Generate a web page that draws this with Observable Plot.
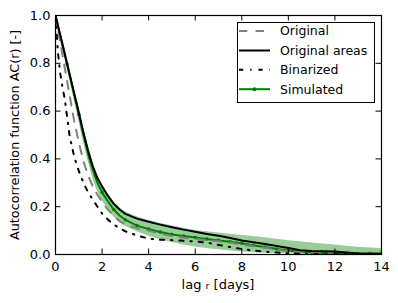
<!DOCTYPE html>
<html>
<head>
<meta charset="utf-8">
<script src="https://cdn.jsdelivr.net/npm/d3@7"></script>
<script src="https://cdn.jsdelivr.net/npm/@observablehq/plot@0.6"></script>
<style>
  html, body { margin: 0; padding: 0; background: white; }
  #wrap { position: relative; width: 398px; height: 303px; font-family: "DejaVu Sans", sans-serif; }
  #legend { position: absolute; left: 236.5px; top: 22px; width: 138px; height: 81px; box-sizing: border-box; border: 1px solid black; background: white; }
</style>
</head>
<body>
<div id="wrap"></div>
<script>
const lag = [0,0.1,0.2,0.3,0.4,0.5,0.6,0.8,1.0,1.2,1.4,1.6,1.8,2.0,2.25,2.5,2.75,3,3.5,4,4.5,5,5.5,6,6.5,7,7.5,8,8.5,9,9.5,10,10.5,11,11.5,12,12.5,13,13.5,14];
const originalAreas = [1.0,0.96,0.92,0.88,0.84,0.795,0.755,0.675,0.595,0.51,0.435,0.37,0.32,0.285,0.245,0.212,0.188,0.17,0.15,0.137,0.125,0.114,0.104,0.095,0.086,0.078,0.069,0.059,0.051,0.044,0.036,0.027,0.018,0.015,0.014,0.013,0.008,0.004,0.003,0.002];
const original = [1.0,0.945,0.89,0.835,0.78,0.725,0.67,0.56,0.47,0.39,0.33,0.285,0.25,0.22,0.188,0.162,0.14,0.125,0.11,0.1,0.087,0.077,0.07,0.065,0.06,0.055,0.05,0.041,0.035,0.028,0.02,0.013,0.01,0.008,0.007,0.005,0.004,0.003,0.003,0.003];
const binarized = [1.0,0.85,0.76,0.70,0.65,0.575,0.5,0.41,0.35,0.30,0.26,0.23,0.2,0.172,0.146,0.126,0.11,0.097,0.08,0.066,0.062,0.06,0.057,0.055,0.05,0.04,0.031,0.023,0.017,0.012,0.008,0.005,0.003,0.002,0.001,0.001,0.001,0.0,0.0,0.0];
const simulated = [1.0,0.957,0.917,0.877,0.837,0.797,0.757,0.672,0.587,0.5,0.42,0.355,0.3,0.26,0.222,0.188,0.163,0.145,0.121,0.106,0.094,0.084,0.077,0.071,0.065,0.059,0.053,0.047,0.038,0.031,0.023,0.017,0.012,0.009,0.007,0.006,0.005,0.004,0.004,0.005];
const simHigh = [1.0,0.962,0.924,0.886,0.848,0.808,0.77,0.69,0.61,0.525,0.445,0.38,0.33,0.295,0.255,0.222,0.197,0.178,0.158,0.142,0.13,0.12,0.11,0.1,0.095,0.09,0.085,0.08,0.075,0.07,0.064,0.058,0.053,0.048,0.044,0.04,0.035,0.03,0.027,0.025];
const simLow = [1.0,0.95,0.905,0.86,0.82,0.78,0.735,0.645,0.56,0.47,0.39,0.32,0.265,0.225,0.19,0.158,0.135,0.118,0.095,0.076,0.062,0.05,0.04,0.031,0.025,0.02,0.015,0.01,0.007,0.005,0.004,0.003,0.001,0,0,0,0,0,0,0];
const xTicks = [0,2,4,6,8,10,12,14];
const yTicks = [0,0.2,0.4,0.6,0.8,1.0];
const seriesNames = ["Original","Original areas","Binarized","Simulated"];

const rows = lag.map((x,i) => ({lag:x, orig:original[i], areas:originalAreas[i], bin:binarized[i], sim:simulated[i], lo:simLow[i], hi:simHigh[i]}));
const simDots = rows.filter(d => Math.abs(d.lag*2 - Math.round(d.lag*2)) < 1e-9);

const DASH = "8.3,8.3";
const DASHDOT = "4.2,6.9,1.4,6.9";

const plot = Plot.plot({
  width: 398, height: 303,
  marginLeft: 55, marginRight: 17, marginTop: 15, marginBottom: 49,
  x: {domain: [0,14]},
  y: {domain: [0,1]},
  style: {fontFamily: "DejaVu Sans", fontSize: "13px", color: "black", background: "white"},
  marks: [
    Plot.areaY(rows, {x:"lag", y1:"lo", y2:"hi", fill:"#008000", fillOpacity:0.4, curve:"linear", clip:true}),
    Plot.line(rows, {x:"lag", y:"sim", stroke:"#008000", strokeWidth:2, clip:true}),
    Plot.dot(simDots, {x:"lag", y:"sim", r:1.8, fill:"#008000", stroke:"none", clip:true}),
    Plot.line(rows, {x:"lag", y:"orig", stroke:"#808080", strokeWidth:2, strokeDasharray:DASH, clip:true}),
    Plot.line(rows, {x:"lag", y:"areas", stroke:"black", strokeWidth:2, clip:true}),
    Plot.line(rows, {x:"lag", y:"bin", stroke:"black", strokeWidth:2, strokeDasharray:DASHDOT, clip:true}),
    Plot.tickX(xTicks, {x:d=>d, insetTop:233.5, stroke:"black"}),
    Plot.tickX(xTicks, {x:d=>d, insetBottom:233.5, stroke:"black"}),
    Plot.tickY(yTicks, {y:d=>d, insetRight:320.5, stroke:"black"}),
    Plot.tickY(yTicks, {y:d=>d, insetLeft:320.5, stroke:"black"}),
    Plot.frame({stroke:"black", strokeWidth:1.2}),
    Plot.axisX({ticks: xTicks, tickSize:0, tickPadding:7, label:null, tickFormat: d=>String(d)}),
    Plot.axisY({ticks: yTicks, tickSize:0, tickPadding:5, label:null, tickFormat: d3.format(".1f")})
  ]
});

const wrap = document.getElementById("wrap");
wrap.appendChild(plot);

const svg = d3.select(plot);
// axis labels
const xl = svg.append("text").attr("x", 218).attr("y", 289).attr("text-anchor","middle")
  .attr("font-family","DejaVu Sans").attr("font-size","13px").attr("fill","black");
xl.append("tspan").text("lag ");
xl.append("tspan").attr("font-size","9.5px").text("r");
xl.append("tspan").text(" [days]");

svg.append("text").attr("transform","translate(19,135) rotate(-90)").attr("text-anchor","middle")
  .attr("font-family","DejaVu Sans").attr("font-size","12.8px").attr("fill","black")
  .text("Autocorrelation function AC(r) [-]");

// legend
const leg = document.createElement("div");
leg.id = "legend";
wrap.appendChild(leg);
const ls = d3.select(leg).append("svg").attr("width",136).attr("height",79).style("display","block");
const rowY = [8, 27.5, 46.8, 66.2];
const styles = [
  {stroke:"#808080", dash:DASH},
  {stroke:"black", dash:null},
  {stroke:"black", dash:DASHDOT},
  {stroke:"#008000", dash:null, dot:true}
];
seriesNames.forEach((name,i) => {
  const st = styles[i];
  const ln = ls.append("line").attr("x1",1).attr("x2",32).attr("y1",rowY[i]).attr("y2",rowY[i])
    .attr("stroke",st.stroke).attr("stroke-width",2);
  if (st.dash) ln.attr("stroke-dasharray", st.dash);
  if (st.dot) ls.append("circle").attr("cx",16.5).attr("cy",rowY[i]).attr("r",2).attr("fill","#008000");
  ls.append("text").attr("x",42).attr("y",rowY[i]).attr("dy","0.35em")
    .attr("font-family","DejaVu Sans").attr("font-size","12.5px").attr("fill","black").text(name);
});
</script>
</body>
</html>
